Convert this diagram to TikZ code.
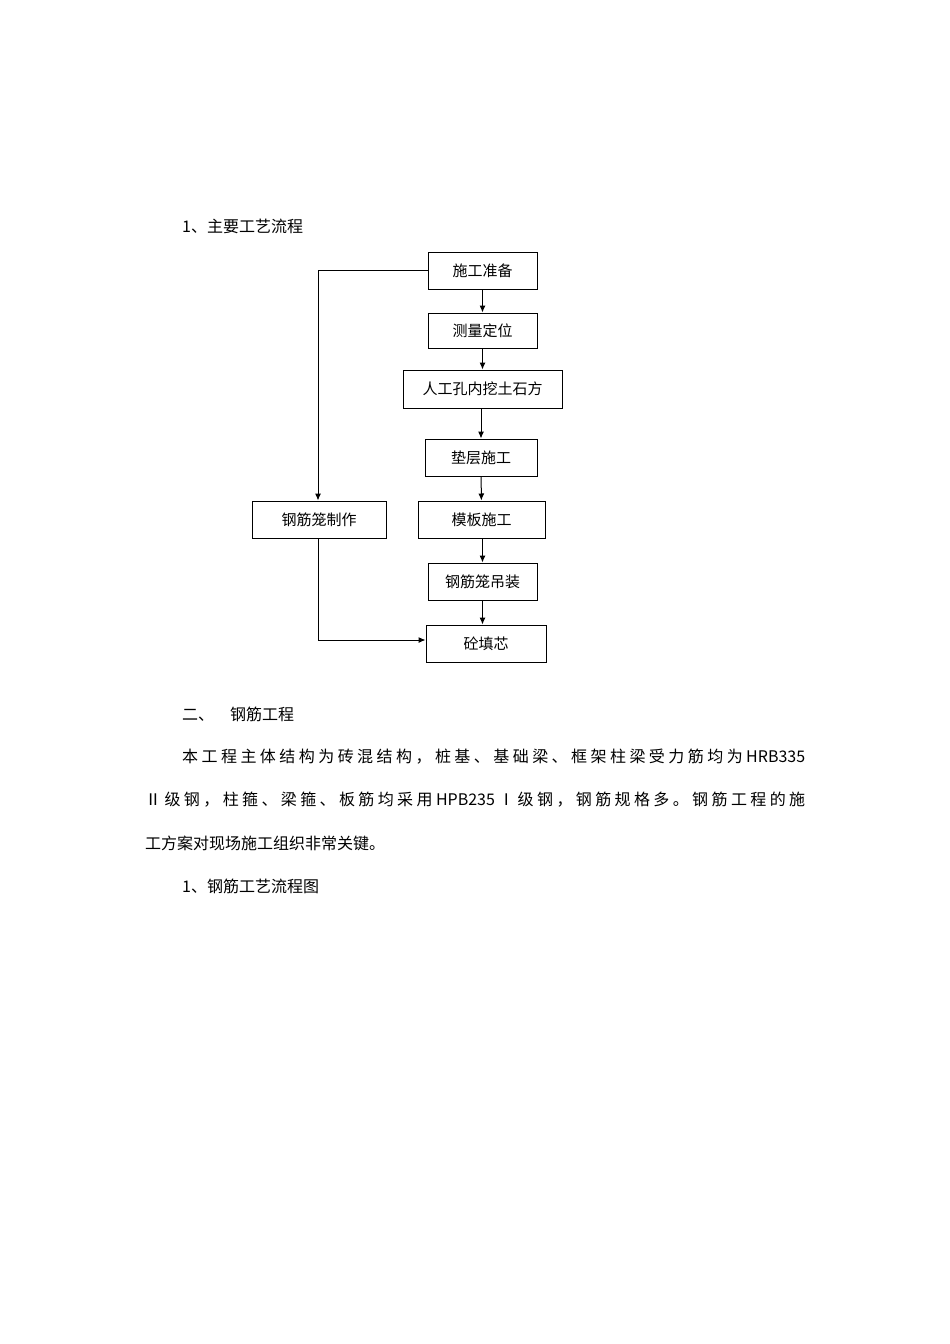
\documentclass[tikz,border=0pt]{standalone}
\usepackage{fontspec}
\usetikzlibrary{arrows.meta}
\setmainfont{Liberation Serif}
\newfontfamily\cjk{Noto Sans CJK SC}
\def\myspread#1{#1\myspreadi}
\def\myspreadi#1{\ifx\relax#1\else\hfill#1\expandafter\myspreadi\fi}
\begin{document}
\begin{tikzpicture}[x=1pt,y=-1pt,
  box/.style={draw,line width=1pt,font=\cjk\fontsize{15}{18}\selectfont,inner sep=0pt},
  arr/.style={-{Latex[length=7pt,width=6pt]},line width=1pt},
  txt/.style={anchor=west,font=\cjk\fontsize{16}{19}\selectfont,inner sep=0pt}]
\useasboundingbox (0,0) rectangle (950,1344);
\node[box,minimum width=109pt,minimum height=37pt] (a) at (482.5,270.5) {施工准备};
\node[box,minimum width=109pt,minimum height=35pt] (b) at (482.5,330.5) {测量定位};
\node[box,minimum width=159pt,minimum height=38pt] (c) at (482.5,389) {人工孔内挖土石方};
\node[box,minimum width=112pt,minimum height=37pt] (d) at (481,457.5) {垫层施工};
\node[box,minimum width=127pt,minimum height=37pt] (e) at (481.5,519.5) {模板施工};
\node[box,minimum width=109pt,minimum height=37pt] (f) at (482.5,581.5) {钢筋笼吊装};
\node[box,minimum width=120pt,minimum height=37pt] (g) at (486,643.5) {砼填芯};
\node[box,minimum width=134pt,minimum height=37pt] (h) at (319,519.5) {钢筋笼制作};
\draw[arr] (a) -- (b);
\draw[arr] (b) -- (c);
\draw[arr] (c.south -| d) -- (d);
\draw[arr] (d) -- (e);
\draw[arr] (e.south -| f) -- (f);
\draw[arr] (f) -- (f|-g.north);
\coordinate (k1) at (318,270);
\coordinate (k2) at (318,640);
\draw[arr] (a.west|-k1) -- (k1) -- (k1|-h.north);
\draw[arr] (h.south-|k2) -- (k2) -- (g.west|-k2);
\node[txt] (t1) at (182,226) {1、主要工艺流程};
\node[txt] (t2) at (182,714) {二、\quad 钢筋工程};
\node[txt] (p1) at (182,757) {\hbox to 623pt{\myspread 本工程主体结构为砖混结构，桩基、基础梁、框架柱梁受力筋均为{HRB335}\relax}};
\node[txt] (p2) at (145,800) {\hbox to 660pt{\myspread Ⅱ级钢，柱箍、梁箍、板筋均采用{HPB235}Ⅰ级钢，钢筋规格多。钢筋工程的施\relax}};
\node[txt] (p3) at (145,843) {\hbox{\myspread 工方案对现场施工组织非常关键。\relax}};
\node[txt] (t3) at (182,886) {1、钢筋工艺流程图};
\end{tikzpicture}
\end{document}
